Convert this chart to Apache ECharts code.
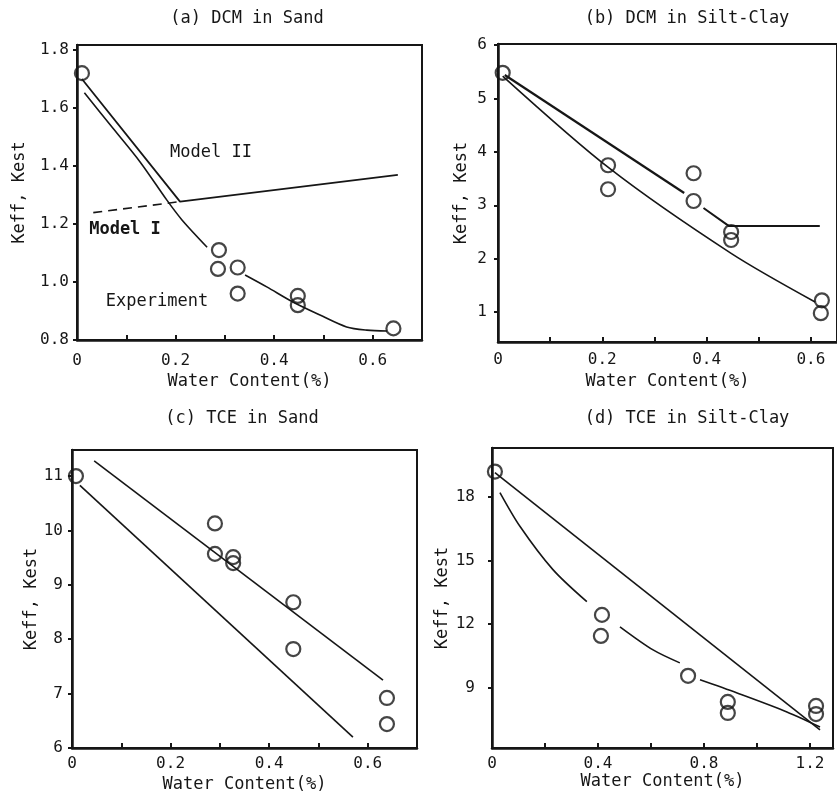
<!DOCTYPE html>
<html>
<head>
<meta charset="utf-8">
<script src="https://cdn.jsdelivr.net/npm/echarts@6/dist/echarts.min.js"></script>
<style>
  html, body { margin: 0; padding: 0; background: #fff; }
  #chart { width: 837px; height: 797px; }
</style>
</head>
<body>
<div id="chart"></div>
<script>
// ---------- (a) DCM in Sand ----------
const aExpX = [0.01, 0.288, 0.286, 0.326, 0.326, 0.448, 0.448, 0.642];
const aExpY = [1.72, 1.11, 1.045, 1.05, 0.96, 0.952, 0.92, 0.84];
const aModel2X = [0.01, 0.209, 0.651];
const aModel2Y = [1.70, 1.277, 1.369];
const aModel1DashX = [0.033, 0.209];
const aModel1DashY = [1.239, 1.277];
const aCurve1X = [0.015, 0.073, 0.128, 0.182, 0.213, 0.264];
const aCurve1Y = [1.652, 1.53, 1.414, 1.283, 1.214, 1.12];
const aCurve2X = [0.341, 0.385, 0.439, 0.493, 0.547, 0.588, 0.629];
const aCurve2Y = [1.024, 0.983, 0.93, 0.886, 0.845, 0.834, 0.831];

// ---------- (b) DCM in Silt-Clay ----------
const bExpX = [0.009, 0.211, 0.211, 0.375, 0.375, 0.447, 0.447, 0.621, 0.619];
const bExpY = [5.48, 3.75, 3.30, 3.60, 3.08, 2.50, 2.35, 1.22, 0.98];
const bUpper1X = [0.013, 0.357];
const bUpper1Y = [5.44, 3.23];
const bUpper2X = [0.394, 0.443, 0.617];
const bUpper2Y = [2.95, 2.61, 2.61];
const bLowerX = [0.009, 0.214, 0.447, 0.608];
const bLowerY = [5.42, 3.69, 2.10, 1.19];

// ---------- (c) TCE in Sand ----------
const cExpX = [0.008, 0.29, 0.29, 0.327, 0.327, 0.449, 0.449, 0.639, 0.639];
const cExpY = [11.0, 10.13, 9.57, 9.51, 9.40, 8.68, 7.82, 6.92, 6.44];
const cUpperX = [0.045, 0.631];
const cUpperY = [11.28, 7.25];
const cLowerX = [0.016, 0.57];
const cLowerY = [10.83, 6.2];

// ---------- (d) TCE in Silt-Clay ----------
const dExpX = [0.011, 0.415, 0.411, 0.74, 0.89, 0.89, 1.223, 1.223];
const dExpY = [19.19, 12.44, 11.45, 9.57, 8.34, 7.82, 8.15, 7.77];
const dUpperX = [0.011, 1.238];
const dUpperY = [19.14, 7.02];
const dCurve1X = [0.03, 0.106, 0.23, 0.358];
const dCurve1Y = [18.2, 16.6, 14.57, 13.06];
const dCurve2X = [0.483, 0.608, 0.709];
const dCurve2Y = [11.88, 10.79, 10.18];
const dCurve3X = [0.785, 0.925, 1.113, 1.238];
const dCurve3Y = [9.38, 8.76, 7.87, 7.16];

// ---------- axis ticks / labels ----------
const xTicksSand = [0, 0.1, 0.2, 0.3, 0.4, 0.5, 0.6, 0.7];
const xLabelsSand = [0, 0.2, 0.4, 0.6];
const xTicksSilt = [0, 0.1, 0.2, 0.3, 0.4, 0.5, 0.6];
const xLabelsSilt = [0, 0.2, 0.4, 0.6];
const xTicksTceSilt = [0, 0.2, 0.4, 0.6, 0.8, 1.0, 1.2];
const xLabelsTceSilt = [0, 0.4, 0.8, 1.2];
const yTicksA = [0.8, 1.0, 1.2, 1.4, 1.6, 1.8];
const yTicksB = [1, 2, 3, 4, 5, 6];
const yTicksC = [6, 7, 8, 9, 10, 11];
const yTicksD = [9, 12, 15, 18];

const titles = ['(a) DCM in Sand', '(b) DCM in Silt-Clay', '(c) TCE in Sand', '(d) TCE in Silt-Clay'];
const xName = 'Water Content(%)';
const yName = 'Keff, Kest';

const INK = '#161616';
const MONO = '"DejaVu Sans Mono", "Liberation Mono", monospace';

const zip = (xs, ys) => xs.map((x, i) => [x, ys[i]]);

function fmtX(v) { return v === 0 ? '0' : v.toFixed(1); }

function xAxisFor(gi, max, ticks, labels, labelMargin, nameGap) {
  return {
    type: 'value', gridIndex: gi, min: 0, max: max,
    axisLine: { show: true, onZero: false, lineStyle: { color: INK, width: 2.5 } },
    axisTick: { show: true, inside: true, length: 5, customValues: ticks, lineStyle: { color: INK, width: 2 } },
    axisLabel: { customValues: labels, color: INK, fontFamily: MONO, fontSize: 16, margin: labelMargin, formatter: fmtX },
    splitLine: { show: false },
    name: xName, nameLocation: 'middle', nameGap: nameGap,
    nameTextStyle: { color: INK, fontFamily: MONO, fontSize: 17 }
  };
}

function yAxisFor(gi, min, max, ticks, fmt, labelMargin, nameGap) {
  return {
    type: 'value', gridIndex: gi, min: min, max: max,
    axisLine: { show: true, onZero: false, lineStyle: { color: INK, width: 2.5 } },
    axisTick: { show: true, inside: false, length: 4, customValues: ticks, lineStyle: { color: INK, width: 2 } },
    axisLabel: { customValues: ticks, color: INK, fontFamily: MONO, fontSize: 16, margin: labelMargin, formatter: fmt },
    splitLine: { show: false },
    name: yName, nameLocation: 'middle', nameGap: nameGap,
    nameTextStyle: { color: INK, fontFamily: MONO, fontSize: 17 }
  };
}

function circles(gi, xs, ys) {
  return {
    type: 'scatter', xAxisIndex: gi, yAxisIndex: gi, data: zip(xs, ys),
    symbol: 'circle', symbolSize: 14, z: 5,
    itemStyle: { color: 'rgba(0,0,0,0)', borderColor: INK, borderWidth: 2.2 },
    emphasis: { disabled: true }
  };
}

function curve(gi, xs, ys, opts) {
  opts = opts || {};
  return {
    type: 'line', xAxisIndex: gi, yAxisIndex: gi, data: zip(xs, ys),
    showSymbol: false, symbol: 'none', smooth: opts.smooth || false, z: 3,
    lineStyle: { color: INK, width: opts.width || 1.6, type: opts.type || 'solid' },
    emphasis: { disabled: true }
  };
}

const grids = [
  { left: 77, top: 45, width: 345, height: 295 },
  { left: 498, top: 44, width: 345, height: 298 },
  { left: 72, top: 450, width: 345, height: 298 },
  { left: 492, top: 448, width: 341, height: 300 }
].map(g => Object.assign(g, { show: true, borderColor: INK, borderWidth: 2, backgroundColor: 'rgba(0,0,0,0)' }));

const titleCenters = [[247, 10], [687, 10], [242, 410], [687, 410]];

const intFmt = v => String(Math.round(v));

const option = {
  backgroundColor: '#ffffff',
  animation: false,
  grid: grids,
  xAxis: [
    xAxisFor(0, 0.7, xTicksSand, xLabelsSand, 13, 33),
    xAxisFor(1, 0.65, xTicksSilt, xLabelsSilt, 10, 31),
    xAxisFor(2, 0.7, xTicksSand, xLabelsSand, 8, 28),
    xAxisFor(3, 1.287, xTicksTceSilt, xLabelsTceSilt, 8, 25)
  ],
  yAxis: [
    yAxisFor(0, 0.8, 1.817, yTicksA, v => v.toFixed(1), 8, 49),
    yAxisFor(1, 0.44, 6.02, yTicksB, intFmt, 11, 28),
    yAxisFor(2, 6, 11.48, yTicksC, intFmt, 9, 29),
    yAxisFor(3, 6.17, 20.3, yTicksD, intFmt, 17, 41)
  ],
  graphic: titles.map((t, i) => ({
    type: 'text', x: titleCenters[i][0], y: titleCenters[i][1],
    style: { text: t, fill: INK, font: '17px ' + MONO, textAlign: 'center', textVerticalAlign: 'top' }
  })).concat([
    { type: 'text', x: 211, y: 153, style: { text: 'Model II', fill: INK, font: '17px ' + MONO, textAlign: 'center', textVerticalAlign: 'middle' } },
    { type: 'text', x: 125, y: 230, style: { text: 'Model I', fill: INK, font: 'bold 17px ' + MONO, textAlign: 'center', textVerticalAlign: 'middle' } },
    { type: 'text', x: 157, y: 302, style: { text: 'Experiment', fill: INK, font: '17px ' + MONO, textAlign: 'center', textVerticalAlign: 'middle' } }
  ]),
  series: [
    // (a)
    circles(0, aExpX, aExpY),
    curve(0, aModel2X, aModel2Y, { width: 1.8 }),
    curve(0, aModel1DashX, aModel1DashY, { type: [9, 6], width: 1.6 }),
    curve(0, aCurve1X, aCurve1Y, { smooth: 0.3 }),
    curve(0, aCurve2X, aCurve2Y, { smooth: 0.3 }),
    // (b)
    circles(1, bExpX, bExpY),
    curve(1, bUpper1X, bUpper1Y, { width: 2.2 }),
    curve(1, bUpper2X, bUpper2Y, { width: 2 }),
    curve(1, bLowerX, bLowerY, { smooth: 0.3 }),
    // (c)
    circles(2, cExpX, cExpY),
    curve(2, cUpperX, cUpperY),
    curve(2, cLowerX, cLowerY),
    // (d)
    circles(3, dExpX, dExpY),
    curve(3, dUpperX, dUpperY),
    curve(3, dCurve1X, dCurve1Y, { smooth: 0.3 }),
    curve(3, dCurve2X, dCurve2Y, { smooth: 0.3 }),
    curve(3, dCurve3X, dCurve3Y, { smooth: 0.3 })
  ]
};

const chart = echarts.init(document.getElementById('chart'), null, { renderer: 'canvas' });
chart.setOption(option);
</script>
</body>
</html>
